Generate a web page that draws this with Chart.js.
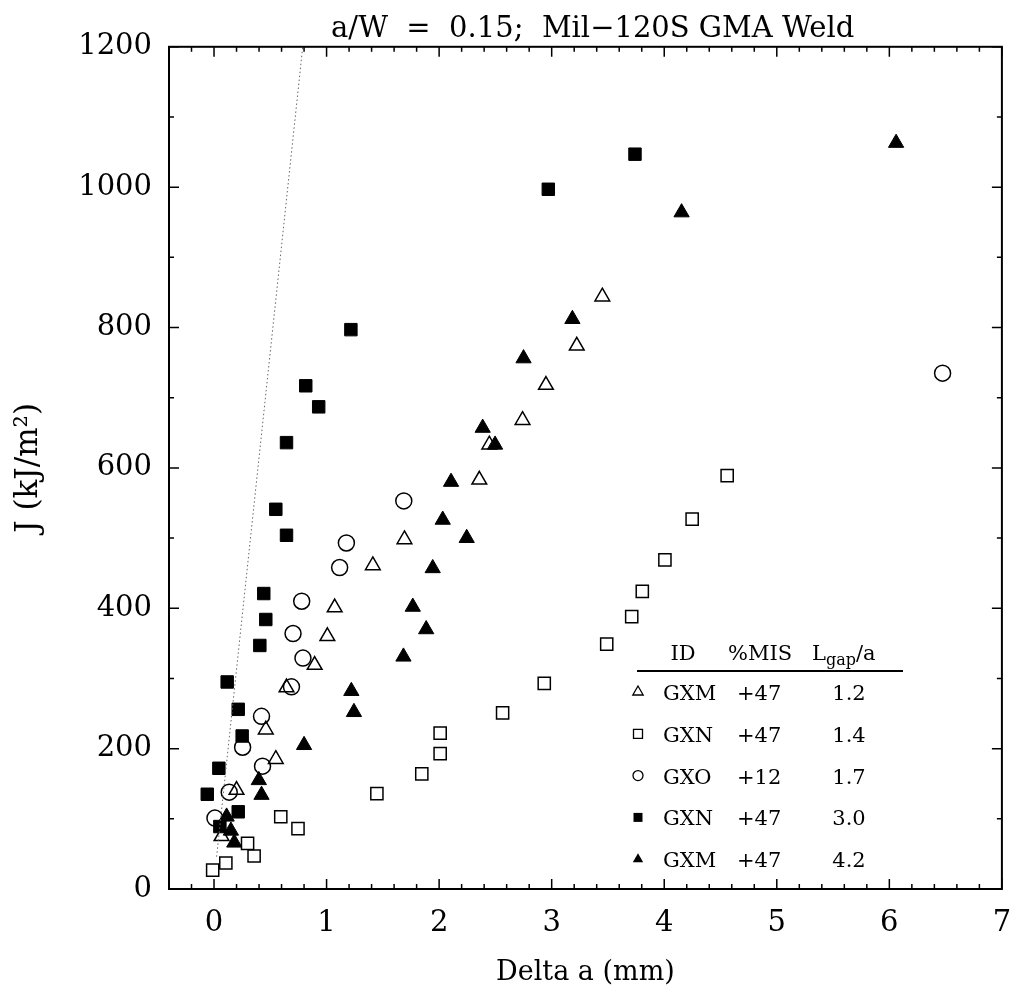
<!DOCTYPE html>
<html>
<head>
<meta charset="utf-8">
<title>J-R curves, a/W = 0.15</title>
<script src="https://cdn.jsdelivr.net/npm/chart.js@4.4.1/dist/chart.umd.min.js"></script>
<style>
  body { margin: 0; background: #fff; }
  canvas { display: block; }
</style>
</head>
<body>
<canvas id="jrChart" width="1012" height="1008"></canvas>
<script>
// ---------------- DATA ----------------

const xTicks = [0, 1, 2, 3, 4, 5, 6, 7];
const yTicks = [0, 200, 400, 600, 800, 1000, 1200];

// GXM, +47, Lgap/a = 1.2 (open triangles)
const gxm12X = [0.067, 0.20, 0.46, 0.549, 0.644, 0.894, 1.007, 1.072, 1.411, 1.692, 2.357, 2.446, 2.741, 2.949, 3.223, 3.45];
const gxm12Y = [75, 141, 227, 185, 287, 319, 360, 401, 461, 498, 583, 633, 668, 718, 774, 844];

// GXN, +47, Lgap/a = 1.4 (open squares)
const gxn14X = [-0.012, 0.105, 0.298, 0.356, 0.593, 0.746, 1.447, 1.846, 2.009, 2.009, 2.564, 2.934, 3.489, 3.711, 3.805, 4.006, 4.248, 4.559];
const gxn14Y = [27, 37, 65, 47, 103, 86, 136, 164, 193, 222, 251, 293, 349, 388, 424, 469, 527, 589];

// GXO, +12, Lgap/a = 1.7 (open circles)
const gxo17X = [0.008, 0.135, 0.254, 0.431, 0.422, 0.688, 0.702, 0.79, 0.779, 1.116, 1.176, 1.686, 6.473];
const gxo17Y = [101, 138, 202, 175, 246, 288, 364, 329, 410, 458, 493, 553, 735];

// GXN, +47, Lgap/a = 3.0 (filled squares)
const gxn30X = [-0.06, 0.052, 0.043, 0.215, 0.117, 0.215, 0.25, 0.407, 0.46, 0.442, 0.549, 0.644, 0.644, 0.815, 0.93, 1.216, 2.97, 3.74];
const gxn30Y = [135, 89, 172, 110, 295, 256, 218, 347, 384, 421, 541, 504, 636, 717, 687, 797, 997, 1047];

// GXM, +47, Lgap/a = 4.2 (filled triangles)
const gxm42X = [0.112, 0.15, 0.18, 0.398, 0.422, 0.80, 1.22, 1.243, 1.683, 1.766, 1.885, 1.943, 2.032, 2.106, 2.245, 2.387, 2.497, 2.75, 3.184, 4.154, 6.06];
const gxm42Y = [103, 83, 66, 155, 134, 205, 282, 252, 331, 402, 370, 457, 526, 580, 500, 657, 633, 756, 812, 964, 1063];

// blunting line (dotted)
const bluntX = [0.023, 0.788];
const bluntY = [46, 1200];

// legend table
const legendIds = ["GXM", "GXN", "GXO", "GXN", "GXM"];
const legendMis = ["+47", "+47", "+12", "+47", "+47"];
const legendLgap = ["1.2", "1.4", "1.7", "3.0", "4.2"];
const legendStyles = ["triOpen", "rectOpen", "circOpen", "rectFill", "triFill"];

const FONT = "'DejaVu Serif', serif";

function pts(xs, ys){
    return xs.map((x, i) => ({x: x, y: ys[i]}));
}


// ---------------- PLUGINS ----------------

// box frame with inward ticks on all four sides
const frameTicks = {
    id: "frameTicks",
    afterDatasetsDraw(chart){
        const {ctx, chartArea: a, scales: {x, y}} = chart;
        ctx.save();
        ctx.strokeStyle = "#000";
        ctx.lineWidth = 1.5;
        ctx.beginPath();
        for(let i = -2; i <= 35; i++){
            const px = x.getPixelForValue(i / 5);
            const len = (i % 5 === 0) ? 10 : 5;
            ctx.moveTo(px, a.bottom); ctx.lineTo(px, a.bottom - len);
            ctx.moveTo(px, a.top); ctx.lineTo(px, a.top + len);
        }
        for(let v = 0; v <= 1200; v += 100){
            const py = y.getPixelForValue(v);
            const len = (v % 200 === 0) ? 10 : 5;
            ctx.moveTo(a.left, py); ctx.lineTo(a.left + len, py);
            ctx.moveTo(a.right, py); ctx.lineTo(a.right - len, py);
        }
        ctx.stroke();
        ctx.lineWidth = 2;
        ctx.strokeRect(a.left, a.top, a.right - a.left, a.bottom - a.top);
        ctx.restore();
    }
};

function drawSymbol(ctx, style, cx, cy){
    ctx.beginPath();
    if(style.startsWith("tri")){
        const r = 6;
        ctx.moveTo(cx, cy - r);
        ctx.lineTo(cx + r * 0.866, cy + r / 2);
        ctx.lineTo(cx - r * 0.866, cy + r / 2);
        ctx.closePath();
    }
    else if(style.startsWith("rect")){
        ctx.rect(cx - 4.5, cy - 4.5, 9, 9);
    }
    else{
        ctx.arc(cx, cy, 5, 0, Math.PI * 2);
    }
    if(style.endsWith("Fill")) ctx.fill();
    else ctx.stroke();
}

// the ID / %MIS / Lgap/a table in the lower right
const tableLegend = {
    id: "tableLegend",
    afterDraw(chart){
        const ctx = chart.ctx;
        ctx.save();
        ctx.fillStyle = "#000";
        ctx.strokeStyle = "#000";
        ctx.textBaseline = "alphabetic";
        ctx.font = `21px ${FONT}`;

        // header
        ctx.textAlign = "center";
        ctx.fillText("ID", 683, 660);
        ctx.fillText("%MIS", 760, 660);
        ctx.textAlign = "left";
        let hx = 812;
        ctx.fillText("L", hx, 660);
        hx += ctx.measureText("L").width;
        ctx.font = `16px ${FONT}`;
        ctx.fillText("gap", hx, 665);
        hx += ctx.measureText("gap").width;
        ctx.font = `21px ${FONT}`;
        ctx.fillText("/a", hx, 660);

        ctx.lineWidth = 2;
        ctx.beginPath();
        ctx.moveTo(637, 671);
        ctx.lineTo(903, 671);
        ctx.stroke();

        // rows
        ctx.lineWidth = 1.3;
        legendIds.forEach((id, i) => {
            const base = 700 + i * 41.8;
            drawSymbol(ctx, legendStyles[i], 638, base - 8);
            ctx.textAlign = "left";
            ctx.fillText(id, 663, base);
            ctx.fillText(legendMis[i], 737, base);
            ctx.textAlign = "center";
            ctx.fillText(legendLgap[i], 849, base);
        });
        ctx.restore();
    }
};


// ---------------- CHART ----------------

const openSet = {
    backgroundColor: "rgba(0,0,0,0)",
    borderColor: "#000",
    borderWidth: 1.5
};
const fillSet = {
    backgroundColor: "#000",
    borderColor: "#000",
    borderWidth: 1
};

new Chart(document.getElementById("jrChart"), {

    type: "scatter",

    data: {
        datasets: [
            {
                label: "blunting",
                type: "line",
                data: pts(bluntX, bluntY),
                showLine: true,
                borderColor: "#666",
                borderWidth: 1,
                borderDash: [1.5, 2.5],
                pointRadius: 0,
                fill: false
            },
            {label: "GXM 1.2", data: pts(gxm12X, gxm12Y), pointStyle: "triangle", pointRadius: 8.5, ...openSet},
            {label: "GXN 1.4", data: pts(gxn14X, gxn14Y), pointStyle: "rect", pointRadius: 8.6, ...openSet},
            {label: "GXO 1.7", data: pts(gxo17X, gxo17Y), pointStyle: "circle", pointRadius: 8, ...openSet},
            {label: "GXN 3.0", data: pts(gxn30X, gxn30Y), pointStyle: "rect", pointRadius: 8.8, ...fillSet},
            {label: "GXM 4.2", data: pts(gxm42X, gxm42Y), pointStyle: "triangle", pointRadius: 8.8, ...fillSet}
        ]
    },

    options: {
        responsive: false,
        animation: false,
        layout: {padding: {top: 0, right: 8, bottom: 0, left: 0}},
        plugins: {
            legend: {display: false},
            tooltip: {enabled: false},
            title: {
                display: true,
                text: "\u2002a/W  =  0.15;  Mil\u2212120S GMA Weld",
                fullSize: false,
                color: "#000",
                font: {family: FONT, size: 29, weight: "normal", lineHeight: 1.2},
                padding: {top: 12, bottom: 0}
            }
        },
        scales: {
            x: {
                type: "linear",
                min: -0.4,
                max: 7,
                afterBuildTicks: s => { s.ticks = xTicks.map(v => ({value: v})); },
                afterFit: s => { s.height = 119; s.paddingLeft = 0; s.paddingRight = 0; },
                grid: {display: false, drawTicks: false},
                border: {display: false},
                ticks: {color: "#000", padding: 17, maxRotation: 0, callback: v => String(v), font: {family: FONT, size: 29}},
                title: {
                    display: true,
                    text: "Delta a (mm)",
                    color: "#000",
                    font: {family: FONT, size: 27},
                    padding: {top: 0, bottom: 19}
                }
            },
            y: {
                type: "linear",
                min: 0,
                max: 1200,
                afterBuildTicks: s => { s.ticks = yTicks.map(v => ({value: v})); },
                afterFit: s => { s.width = 169; s.paddingTop = 0; s.paddingBottom = 0; },
                grid: {display: false, drawTicks: false},
                border: {display: false},
                ticks: {color: "#000", padding: 17, callback: v => String(v), font: {family: FONT, size: 29}},
                title: {
                    display: true,
                    text: "J (kJ/m\u00B2)",
                    color: "#000",
                    font: {family: FONT, size: 31},
                    padding: {top: 10, bottom: 0}
                }
            }
        }
    },

    plugins: [frameTicks, tableLegend]

});
</script>
</body>
</html>
